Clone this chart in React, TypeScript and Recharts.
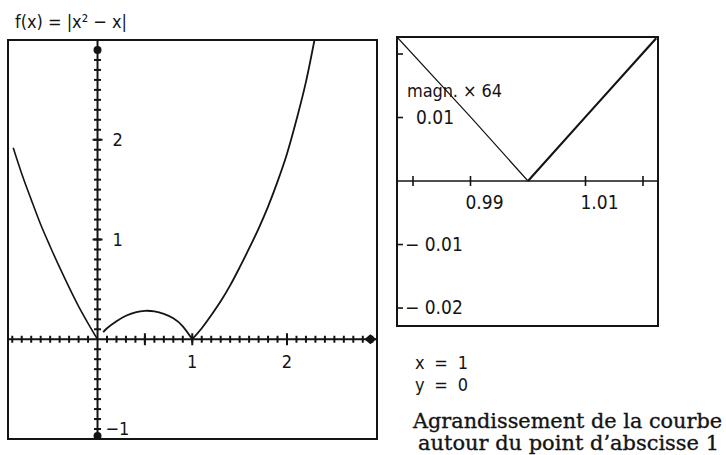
import {
  ComposedChart,
  Line,
  Scatter,
  XAxis,
  YAxis,
  ReferenceLine,
  ReferenceArea,
} from "recharts";

// f(x) = |x² − x|
const leftBranchX = [-0.89, -0.8, -0.7, -0.6, -0.5, -0.4, -0.3, -0.2, -0.1, 0];
const leftBranchY = [1.92, 1.66, 1.4, 1.15, 0.93, 0.72, 0.52, 0.33, 0.16, 0];
const humpX = [0.06, 0.1, 0.2, 0.3, 0.4, 0.5, 0.6, 0.7, 0.8, 0.9, 1];
const humpY = [0.07, 0.11, 0.18, 0.235, 0.27, 0.285, 0.28, 0.255, 0.21, 0.13, 0];
const rightBranchX = [1, 1.1, 1.2, 1.3, 1.4, 1.5, 1.6, 1.7, 1.8, 1.9, 2.0, 2.1, 2.2, 2.29];
const rightBranchY = [0, 0.11, 0.24, 0.38, 0.54, 0.72, 0.91, 1.11, 1.33, 1.58, 1.86, 2.2, 2.58, 3.0];

// zoom around x = 1 (magn. × 64)
const zoomLeftX = [0.9772, 0.99, 1.0];
const zoomLeftY = [0.0227, 0.0101, 0];
const zoomRightX = [1.0, 1.01, 1.0223];
const zoomRightY = [0, 0.0101, 0.0225];

// axes / ticks
const mainMajorX = [0.5, 1, 2];
const mainMajorY = [1, 2];
const mainXLabels = [1, 2];
const mainXLabelText = ["1", "2"];
const mainYLabels = [2, 1, -1];
const mainYLabelText = ["2", "1", "−1"];
const mainMarkers = [
  { x: 0, y: 2.9 },
  { x: 2.88, y: 0 },
  { x: 0, y: -0.97 },
];
const zoomXTicks = [0.98, 0.99, 1.01, 1.02];
const zoomXLabels = [0.99, 1.01];
const zoomXLabelText = ["0.99", "1.01"];
const zoomYTicks = [0.02, 0.01, -0.01, -0.02];
const zoomYLabels = [0.01, -0.01, -0.02];
const zoomYLabelText = ["0.01", "− 0.01", "− 0.02"];

const MAIN_X: [number, number] = [-0.945, 2.95];
const MAIN_Y: [number, number] = [-1, 3];
const ZOOM_X: [number, number] = [0.97722, 1.02261];
const ZOOM_Y: [number, number] = [-0.02283, 0.02268];

const INK = "#141414";
const NARROW = "'Liberation Sans Narrow', 'DejaVu Sans Condensed', sans-serif";
const SERIF = "'DejaVu Serif', serif";

const steps = (from: number, to: number, step: number) => {
  const out: number[] = [];
  for (let v = from; v <= to + 1e-9; v += step) out.push(Math.round(v * 100) / 100);
  return out;
};

const pts = (xs: number[], ys: number[]) => xs.map((x, i) => ({ x, y: ys[i] }));

const minorX = steps(-0.9, 2.9, 0.1).filter((v) => v !== 0).map((x) => ({ x, y: 0 }));
const minorY = steps(-0.9, 2.9, 0.1).filter((v) => v !== 0).map((y) => ({ x: 0, y }));

const vTick = (half: number, w = 2) => (p: any) => (
  <line x1={p.cx} x2={p.cx} y1={p.cy - half} y2={p.cy + half} stroke={INK} strokeWidth={w} />
);
const hTick = (half: number, w = 2) => (p: any) => (
  <line x1={p.cx - half} x2={p.cx + half} y1={p.cy} y2={p.cy} stroke={INK} strokeWidth={w} />
);

function MainChart() {
  return (
    <ComposedChart
      width={373}
      height={403}
      margin={{ top: 2, right: 2, bottom: 2, left: 2 }}
    >
      <XAxis type="number" dataKey="x" domain={MAIN_X} allowDataOverflow hide />
      <YAxis type="number" dataKey="y" domain={MAIN_Y} allowDataOverflow hide />
      <ReferenceArea
        x1={MAIN_X[0]}
        x2={MAIN_X[1]}
        y1={MAIN_Y[0]}
        y2={MAIN_Y[1]}
        fill="none"
        stroke={INK}
        strokeWidth={2}
        ifOverflow="visible"
      />
      <ReferenceLine y={0} stroke={INK} strokeWidth={2} />
      <ReferenceLine x={0} stroke={INK} strokeWidth={2} />
      <Scatter data={minorX} shape={vTick(3.5)} isAnimationActive={false} />
      <Scatter data={minorY} shape={hTick(3.5)} isAnimationActive={false} />
      <Scatter
        data={mainMajorX.map((x) => ({ x, y: 0 }))}
        shape={vTick(6)}
        isAnimationActive={false}
      />
      <Scatter
        data={mainMajorY.map((y) => ({ x: 0, y }))}
        shape={hTick(5)}
        isAnimationActive={false}
      />
      <Scatter
        data={mainMarkers}
        shape={(p: any) =>
          p.payload.y === 0 ? (
            <path
              d={`M${p.cx - 6},${p.cy} L${p.cx},${p.cy - 5} L${p.cx + 6},${p.cy} L${p.cx},${p.cy + 5} Z`}
              fill={INK}
            />
          ) : (
            <circle cx={p.cx} cy={p.cy} r={4} fill={INK} />
          )
        }
        isAnimationActive={false}
      />
      <Line
        data={pts(leftBranchX, leftBranchY)}
        dataKey="y"
        type="monotone"
        stroke={INK}
        strokeWidth={1.6}
        dot={false}
        isAnimationActive={false}
      />
      <Line
        data={pts(humpX, humpY)}
        dataKey="y"
        type="natural"
        stroke={INK}
        strokeWidth={1.8}
        dot={false}
        isAnimationActive={false}
      />
      <Line
        data={pts(rightBranchX, rightBranchY)}
        dataKey="y"
        type="monotone"
        stroke={INK}
        strokeWidth={1.8}
        dot={false}
        isAnimationActive={false}
      />
      <Scatter
        data={mainXLabels.map((x, i) => ({ x, y: 0, t: mainXLabelText[i] }))}
        shape={(p: any) => (
          <text x={p.cx} y={p.cy + 29} textAnchor="middle" fontFamily={NARROW} fontSize={18} fill={INK}>
            {p.payload.t}
          </text>
        )}
        isAnimationActive={false}
      />
      <Scatter
        data={mainYLabels.map((y, i) => ({ x: 0, y, t: mainYLabelText[i] }))}
        shape={(p: any) => {
          const neg = p.payload.y < 0;
          return (
            <text
              x={p.cx + (neg ? 8 : 15)}
              y={neg ? p.cy - 4 : p.cy + 6}
              fontFamily={NARROW}
              fontSize={18}
              fill={INK}
            >
              {p.payload.t}
            </text>
          );
        }}
        isAnimationActive={false}
      />
    </ComposedChart>
  );
}

function ZoomChart() {
  return (
    <ComposedChart
      width={265}
      height={293}
      margin={{ top: 2, right: 2, bottom: 2, left: 2 }}
    >
      <XAxis type="number" dataKey="x" domain={ZOOM_X} allowDataOverflow hide />
      <YAxis type="number" dataKey="y" domain={ZOOM_Y} allowDataOverflow hide />
      <ReferenceArea
        x1={ZOOM_X[0]}
        x2={ZOOM_X[1]}
        y1={ZOOM_Y[0]}
        y2={ZOOM_Y[1]}
        fill="none"
        stroke={INK}
        strokeWidth={2}
        ifOverflow="visible"
      />
      <ReferenceLine y={0} stroke={INK} strokeWidth={1.6} />
      <Scatter
        data={zoomXTicks.map((x) => ({ x, y: 0 }))}
        shape={vTick(5, 1.6)}
        isAnimationActive={false}
      />
      <Scatter
        data={zoomYTicks.map((y) => ({ x: ZOOM_X[0], y }))}
        shape={(p: any) => (
          <line x1={p.cx} x2={p.cx + 6} y1={p.cy} y2={p.cy} stroke={INK} strokeWidth={1.6} />
        )}
        isAnimationActive={false}
      />
      <Line
        data={pts(zoomLeftX, zoomLeftY)}
        dataKey="y"
        type="linear"
        stroke={INK}
        strokeWidth={1.2}
        dot={false}
        isAnimationActive={false}
      />
      <Line
        data={pts(zoomRightX, zoomRightY)}
        dataKey="y"
        type="linear"
        stroke={INK}
        strokeWidth={2.2}
        dot={false}
        isAnimationActive={false}
      />
      <Scatter
        data={zoomXLabels.map((x, i) => ({ x, y: 0, t: zoomXLabelText[i] }))}
        shape={(p: any) => (
          <text x={p.cx - 5} y={p.cy + 28} fontFamily={NARROW} fontSize={19} fill={INK}>
            {p.payload.t}
          </text>
        )}
        isAnimationActive={false}
      />
      <Scatter
        data={zoomYLabels.map((y, i) => ({ x: ZOOM_X[0], y, t: zoomYLabelText[i] }))}
        shape={(p: any) => (
          <text
            x={p.cx + (p.payload.y < 0 ? 8 : 19)}
            y={p.cy + 6}
            fontFamily={NARROW}
            fontSize={19}
            fill={INK}
          >
            {p.payload.t}
          </text>
        )}
        isAnimationActive={false}
      />
    </ComposedChart>
  );
}

export default function App() {
  return (
    <div
      style={{
        position: "absolute",
        left: 0,
        top: 0,
        width: 726,
        height: 455,
        background: "#fff",
        overflow: "hidden",
      }}
    >
      <div style={{ position: "absolute", left: 6, top: 38 }}>
        <MainChart />
      </div>
      <div style={{ position: "absolute", left: 395, top: 35 }}>
        <ZoomChart />
      </div>
      <svg
        width={726}
        height={455}
        style={{ position: "absolute", left: 0, top: 0, pointerEvents: "none" }}
      >
        <text x={15} y={28} fontFamily={NARROW} fontSize={18} fill={INK} textLength={112}>
          f(x) = |x² − x|
        </text>
        <text x={407} y={97} fontFamily={NARROW} fontSize={18} fill={INK} textLength={95}>
          magn. × 64
        </text>
        <text x={415} y={369} fontFamily={NARROW} fontSize={18} fill={INK} textLength={53} style={{ whiteSpace: "pre" }}>
          x = 1
        </text>
        <text x={415} y={391} fontFamily={NARROW} fontSize={18} fill={INK} textLength={53} style={{ whiteSpace: "pre" }}>
          y = 0
        </text>
        <text
          x={413}
          y={428}
          fontFamily={SERIF}
          fontSize={21}
          fill={INK}
          stroke={INK}
          strokeWidth={0.35}
          textLength={309}
          lengthAdjust="spacingAndGlyphs"
        >
          Agrandissement de la courbe
        </text>
        <text
          x={418}
          y={450}
          fontFamily={SERIF}
          fontSize={21}
          fill={INK}
          stroke={INK}
          strokeWidth={0.35}
          textLength={301}
          lengthAdjust="spacingAndGlyphs"
        >
          autour du point d’abscisse 1
        </text>
      </svg>
    </div>
  );
}
